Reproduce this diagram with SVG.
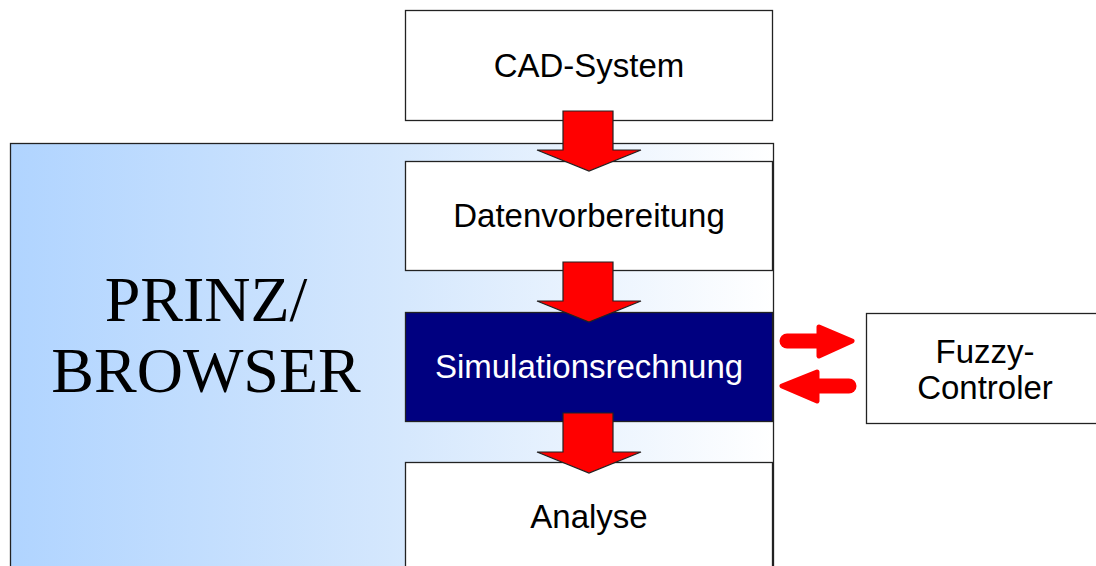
<svg xmlns="http://www.w3.org/2000/svg" width="1096" height="566" viewBox="0 0 1096 566">
<defs>
<linearGradient id="pg" x1="10" y1="0" x2="773" y2="0" gradientUnits="userSpaceOnUse">
<stop offset="0" stop-color="#b0d4ff"/>
<stop offset="0.5" stop-color="#d4e7fd"/>
<stop offset="1" stop-color="#ffffff"/>
</linearGradient>
</defs>
<style>
.box{fill:#fff;stroke:#222;stroke-width:1.3}
.lbl{font-family:"Liberation Sans",Arial,sans-serif;font-size:33px;fill:#000;text-anchor:middle}
.big{font-family:"Liberation Serif","Times New Roman",serif;font-size:64px;fill:#000;text-anchor:middle}
.bigarrow{fill:#ff0000;stroke:#222;stroke-width:1.2;stroke-linejoin:miter}
.small{fill:#ff0000;stroke:#ff0000;stroke-width:5;stroke-linejoin:round}
.shaft{stroke:#ff0000;stroke-width:15;stroke-linecap:round;fill:none}
</style>
<g id="panel">
<rect x="10.5" y="143.5" width="763" height="440" fill="url(#pg)" stroke="#222" stroke-width="1.3"/>
<text class="big" x="206" y="321">PRINZ/</text>
<text class="big" x="206" y="392">BROWSER</text>
</g>
<g id="cad">
<rect class="box" x="405.5" y="10.5" width="367" height="110"/>
<text class="lbl" x="589" y="77">CAD-System</text>
</g>
<g id="daten">
<rect class="box" x="405.5" y="161.5" width="367" height="109"/>
<text class="lbl" x="589" y="227">Datenvorbereitung</text>
</g>
<g id="sim">
<rect x="405.5" y="312.5" width="367" height="109" fill="#000080" stroke="#222" stroke-width="1.3"/>
<text class="lbl" x="589" y="378" style="fill:#fff">Simulationsrechnung</text>
</g>
<g id="analyse">
<rect class="box" x="405.5" y="462.5" width="367" height="120"/>
<text class="lbl" x="589" y="528">Analyse</text>
</g>
<g id="fuzzy">
<rect class="box" x="866.5" y="313.5" width="240" height="110"/>
<text class="lbl" x="985" y="363">Fuzzy-</text>
<text class="lbl" x="985" y="399">Controler</text>
</g>
<g id="connectors">
<path class="bigarrow" d="M563,111 H613 V150 H641 L589,171 L537,150 H563 Z"/>
<path class="bigarrow" d="M563,262 H613 V301 H641 L589,322 L537,301 H563 Z"/>
<path class="bigarrow" d="M563,413 H613 V452 H641 L589,473 L537,452 H563 Z"/>
<line class="shaft" x1="787" y1="341" x2="822" y2="341"/>
<path class="small" d="M819,327 L852,341 L819,356 Z"/>
<line class="shaft" x1="815" y1="386" x2="849" y2="386"/>
<path class="small" d="M817,372 L782,386 L817,401 Z"/>
</g>
</svg>
